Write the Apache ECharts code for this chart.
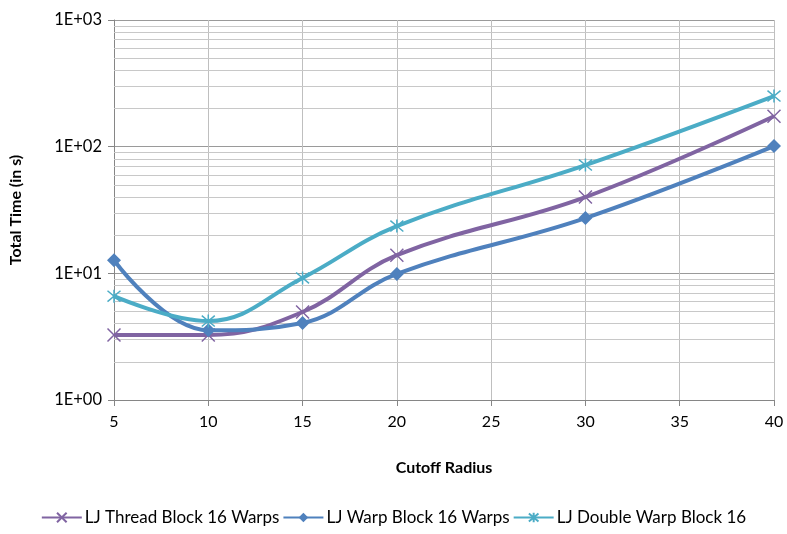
<!DOCTYPE html>
<html><head><meta charset="utf-8">
<script src="https://cdn.jsdelivr.net/npm/echarts@6/dist/echarts.min.js"></script>
<style>html,body{margin:0;padding:0;background:#fff}#c{width:787px;height:534px}</style>
</head><body><div id="c"></div>
<script>
const xValues = [5, 10, 15, 20, 30, 40];
const threadBlock = [3.26, 3.26, 4.95, 13.9, 40, 174];
const warpBlock = [12.7, 3.55, 4.05, 9.9, 27.3, 101];
const doubleWarp = [6.6, 4.2, 9.2, 23.6, 71.6, 251];
const seriesNames = ['LJ Thread Block 16 Warps', 'LJ Warp Block 16 Warps', 'LJ Double Warp Block 16'];
const minorGrid = [2,3,4,5,6,7,8,9,20,30,40,50,60,70,80,90,200,300,400,500,600,700,800,900];

const FONT = 'Lato';
const X_MARK = 'path://M0,0L10,10M10,0L0,10';
const STAR_MARK = 'path://M0,0L10,10M10,0L0,10M5,-1L5,11';

function pairs(vals){ return xValues.map((x,i)=>[x, vals[i]]); }

const chart = echarts.init(document.getElementById('c'), null, {renderer:'canvas'});
chart.setOption({
  animation:false,
  backgroundColor:'#fff',
  grid:{left:113, right:13, top:20, bottom:134},
  xAxis:{
    type:'value', min:5, max:40, interval:5,
    name:'Cutoff Radius', nameLocation:'middle', nameGap:60,
    nameTextStyle:{fontFamily:FONT, fontWeight:'bold', fontSize:16, color:'#000'},
    axisLine:{lineStyle:{color:'#868686', width:1}},
    axisTick:{show:true, length:6, lineStyle:{color:'#868686'}},
    axisLabel:{fontFamily:FONT, fontSize:16, color:'#000', margin:14},
    splitLine:{show:true, lineStyle:{color:'#bfbfbf', width:1}}
  },
  yAxis:{
    type:'log', logBase:10, min:1, max:1000,
    name:'Total Time (in s)', nameLocation:'middle', nameGap:90,
    nameTextStyle:{fontFamily:FONT, fontWeight:'bold', fontSize:16, color:'#000'},
    axisLine:{show:true, lineStyle:{color:'#868686', width:1}},
    axisTick:{show:true, length:6, lineStyle:{color:'#868686'}},
    axisLabel:{fontFamily:FONT, fontSize:16.5, color:'#000', margin:12,
      formatter:v=>'1E+'+String(Math.round(Math.log10(v))).padStart(2,'0')},
    splitLine:{show:true, lineStyle:{color:'#9a9a9a', width:1}}
  },
  legend:{
    bottom:3, left:'center', itemGap:3, itemWidth:40, itemHeight:12,
    textStyle:{fontFamily:FONT, fontSize:17, color:'#000', padding:[0,0,0,-2]},
    data:seriesNames
  },
  series:[
    {
      name:seriesNames[0], type:'line', smooth:0.4, data:pairs(threadBlock),
      symbol:X_MARK, symbolSize:13,
      lineStyle:{color:'#8064A2', width:4},
      itemStyle:{color:'rgba(0,0,0,0)', borderColor:'#8064A2', borderWidth:1.5},
      z:3,
      markLine:{silent:true, symbol:'none', label:{show:false},
        lineStyle:{color:'#c8c8c8', width:1, type:'solid'},
        data:minorGrid.map(v=>({yAxis:v})), z:1}
    },
    {
      name:seriesNames[1], type:'line', smooth:0.4, data:pairs(warpBlock),
      symbol:'diamond', symbolSize:14,
      lineStyle:{color:'#4F81BD', width:4},
      itemStyle:{color:'#4F81BD'}, z:4
    },
    {
      name:seriesNames[2], type:'line', smooth:0.4, data:pairs(doubleWarp),
      symbol:STAR_MARK, symbolSize:13,
      lineStyle:{color:'#4BACC6', width:4},
      itemStyle:{color:'rgba(0,0,0,0)', borderColor:'#4BACC6', borderWidth:1.5}, z:5
    }
  ]
});
</script></body></html>
